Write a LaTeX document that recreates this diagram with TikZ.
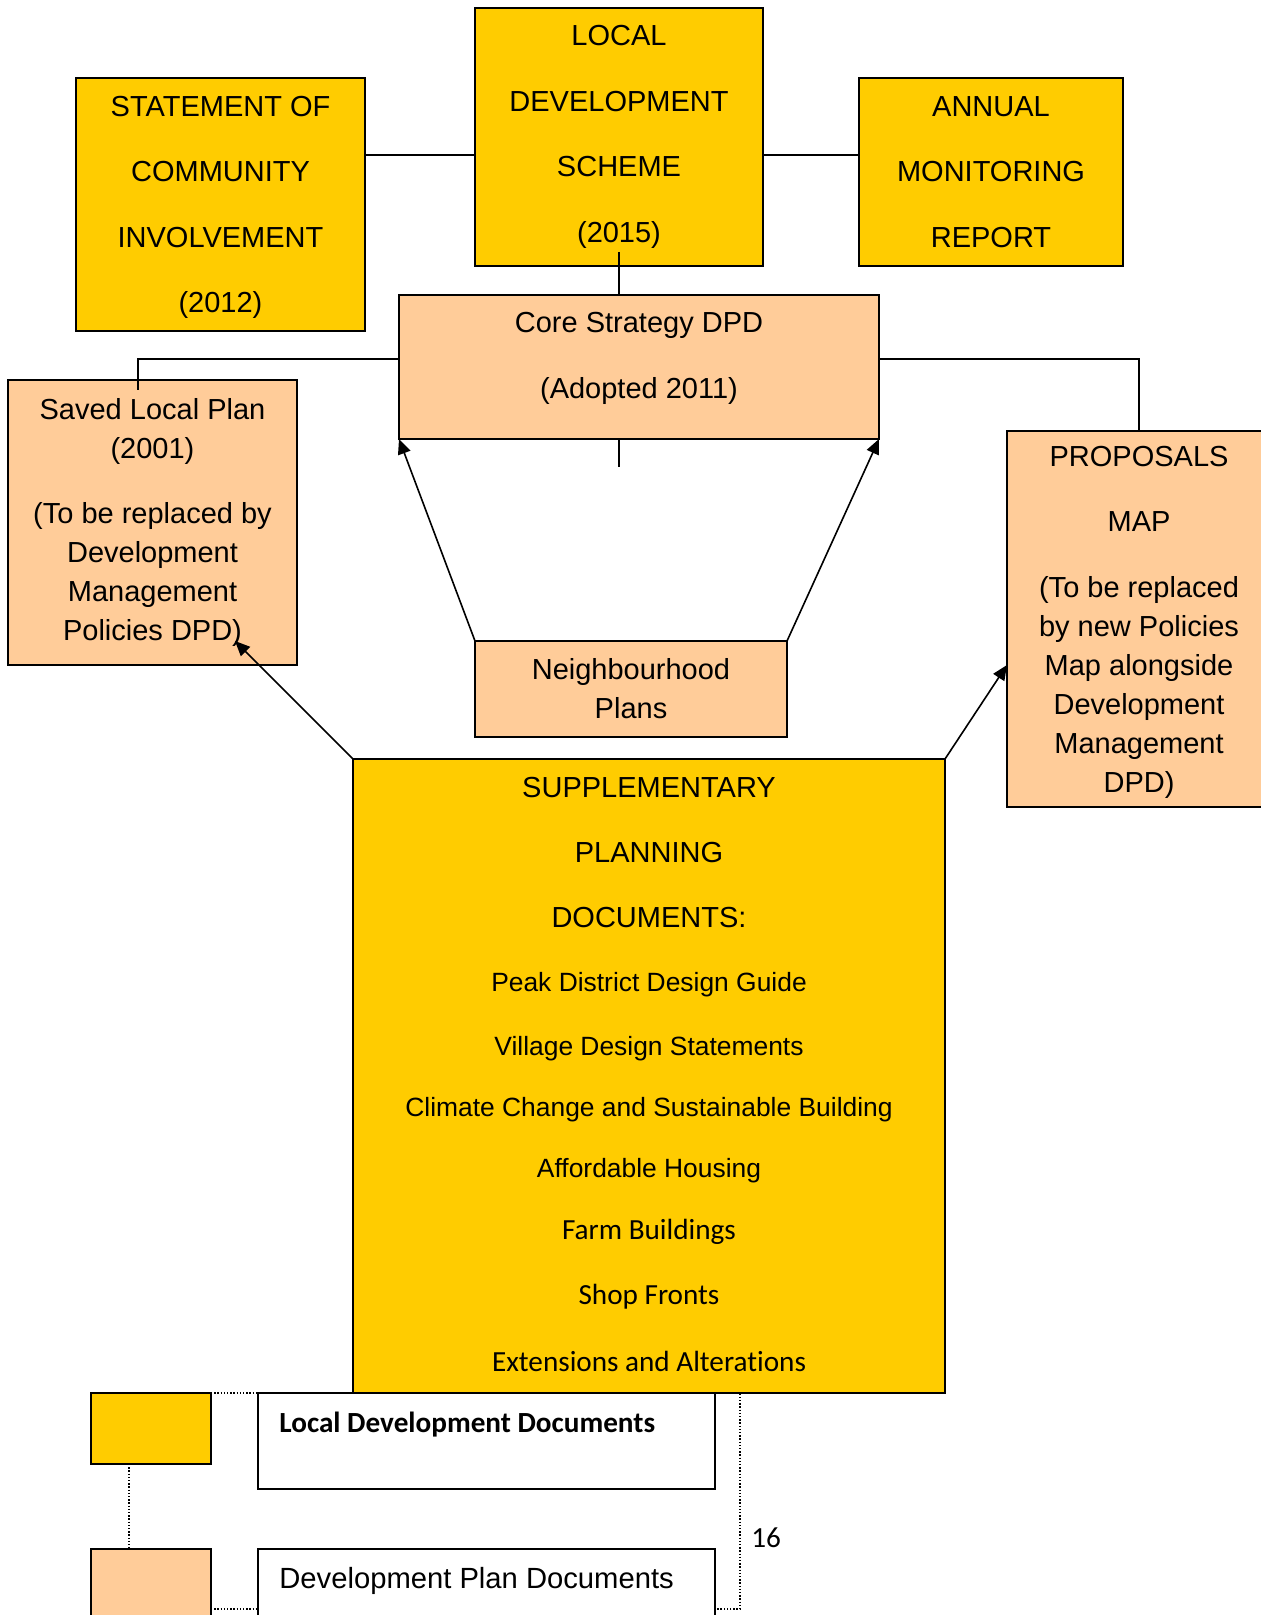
\documentclass[tikz,border=0pt]{standalone}
\usepackage{fontspec}
\setmainfont{Liberation Sans}
\newfontfamily\calibfont[Ligatures={NoCommon,NoContextual}]{Carlito}
\usetikzlibrary{arrows.meta}
\definecolor{ylw}{HTML}{FFCC00}
\definecolor{pch}{HTML}{FFCC99}
\begin{document}
\begin{tikzpicture}[x=0.5pt,y=-0.5pt,
 box/.style={draw=black,line width=1pt,inner sep=0pt,outer sep=0pt,align=center},
 ybox/.style={box,fill=ylw},
 pbox/.style={box,fill=pch},
 wide/.style={font=\fontsize{14.5}{32.75}\selectfont},
 tight/.style={font=\fontsize{14.5}{19.5}\selectfont},
 conn/.style={line width=0.8pt},
 arr/.style={line width=0.8pt,-{Triangle[length=7.5pt,width=6.5pt]}},
 ldot/.style={line width=0.7pt,dash pattern=on 0.7pt off 0.9pt},
 head/.style={anchor=base,inner sep=0pt,font=\fontsize{14.5}{17}\selectfont},
 item/.style={anchor=base,inner sep=0pt,font=\fontsize{13.2}{15}\selectfont},
 citem/.style={anchor=base,inner sep=0pt,font=\calibfont\fontsize{14.6}{17}\selectfont},
]
\useasboundingbox (0,0) rectangle (1260,1615);

% top row
\node[ybox,wide,minimum width=144pt,minimum height=129pt] (lds) at (619,137)
  {LOCAL\\DEVELOPMENT\\SCHEME\\(2015)};
\node[ybox,wide,text depth=0pt,minimum width=144.5pt,minimum height=126.5pt] (sci) at (220.5,204.5)
  {STATEMENT OF\\COMMUNITY\\INVOLVEMENT\\(2012)};
\node[ybox,wide,minimum width=132pt,minimum height=94pt] (amr) at (991,172)
  {ANNUAL\\MONITORING\\REPORT};

% core strategy
\node[pbox,font=\fontsize{14.5}{33}\selectfont,text depth=12pt,minimum width=240pt,minimum height=72pt] (core) at (639,367)
  {Core Strategy DPD\\(Adopted 2011)};

% saved local plan
\node[pbox,tight,minimum width=144.5pt,minimum height=142.5pt] (slp) at (152.5,522.5)
  {Saved Local Plan\\(2001)\\[13pt](To be replaced by\\Development\\Management\\Policies DPD)};

% proposals map
\node[pbox,tight,text depth=-2pt,minimum width=132pt,minimum height=188pt] (prop) at (1139,619)
  {PROPOSALS\\[13.25pt]MAP\\[13.25pt](To be replaced\\by new Policies\\Map alongside\\Development\\Management\\DPD)};

% neighbourhood plans
\node[pbox,tight,minimum width=156pt,minimum height=48pt] (nbh) at (631,689)
  {Neighbourhood\\Plans};

% supplementary planning documents
\node[ybox,minimum width=296pt,minimum height=317pt] (spd) at (649,1076) {};
\node[head] (spd1) at (649,797) {SUPPLEMENTARY};
\node[head] (spd2) at (649,862) {PLANNING};
\node[head] (spd3) at (649,927) {DOCUMENTS:};
\node[item] (spd4) at (649,991.5) {Peak District Design Guide};
\node[item] (spd5) at (649,1055.5) {Village Design Statements};
\node[item] (spd6) at (649,1116.5) {Climate Change and Sustainable Building};
\node[item] (spd7) at (649,1177.5) {Affordable Housing};
\node[citem] (spd8) at (649,1239.5) {Farm Buildings};
\node[citem] (spd9) at (649,1304.5) {Shop Fronts};
\node[citem] (spd10) at (649,1371.5) {Extensions and Alterations};

% connectors
\draw[conn] (sci.east |- 0,155) -- (lds.west |- 0,155);
\draw[conn] (lds.east |- 0,155) -- (amr.west |- 0,155);
\coordinate (ldsIn) at (619,252);
\draw[conn] (ldsIn) -- (ldsIn |- core.north);
\coordinate (tick) at (619,467);
\draw[conn] (tick |- core.south) -- (tick);
\coordinate (slpIn) at (138,390);
\draw[conn] (core.west |- 0,359) -- (slpIn |- 0,359) -- (slpIn);
\draw[conn] (core.east |- 0,359) -- (prop.north |- 0,359) -- (prop.north);

% arrows
\coordinate (slpTip) at (235,641);
\draw[arr] (nbh.north west) -- (core.south west);
\draw[arr] (nbh.north east) -- (core.south east);
\draw[arr] (spd.north west) -- (slpTip);
\draw[arr] (spd.north east) -- (prop.west |- 0,665);

% legend
\node[ybox,minimum width=60pt,minimum height=35.5pt] (ly) at (151,1428.5) {};
\node[box,fill=white,minimum width=228.5pt,minimum height=48pt] (ldd) at (486.5,1441) {};
\node[pbox,minimum width=60pt,minimum height=36pt] (lp) at (151,1585) {};
\node[box,fill=white,minimum width=228.5pt,minimum height=48pt] (dpd) at (486.5,1597) {};
\node[anchor=base west,inner sep=0pt,font=\calibfont\bfseries\fontsize{14.6}{17}\selectfont] (lddT) at (279,1432) {Local Development Documents};
\node[anchor=base west,inner sep=0pt,font=\fontsize{14.6}{17}\selectfont] (dpdT) at (279,1588) {Development Plan Documents};
\node[anchor=base west,inner sep=0pt,font=\calibfont\fontsize{14.6}{17}\selectfont] (pg) at (751,1547) {16};

\draw[ldot] (ly.north east) -- (ldd.north west);
\draw[ldot] (ldd.north east) -- (740,1393) -- (740,1609) -- (dpd.east |- 0,1609);
\draw[ldot] (lp.east |- 0,1609) -- (dpd.west |- 0,1609);
\draw[ldot] (ly.south -| 129,0) -- (lp.north -| 129,0);
\end{tikzpicture}
\end{document}
